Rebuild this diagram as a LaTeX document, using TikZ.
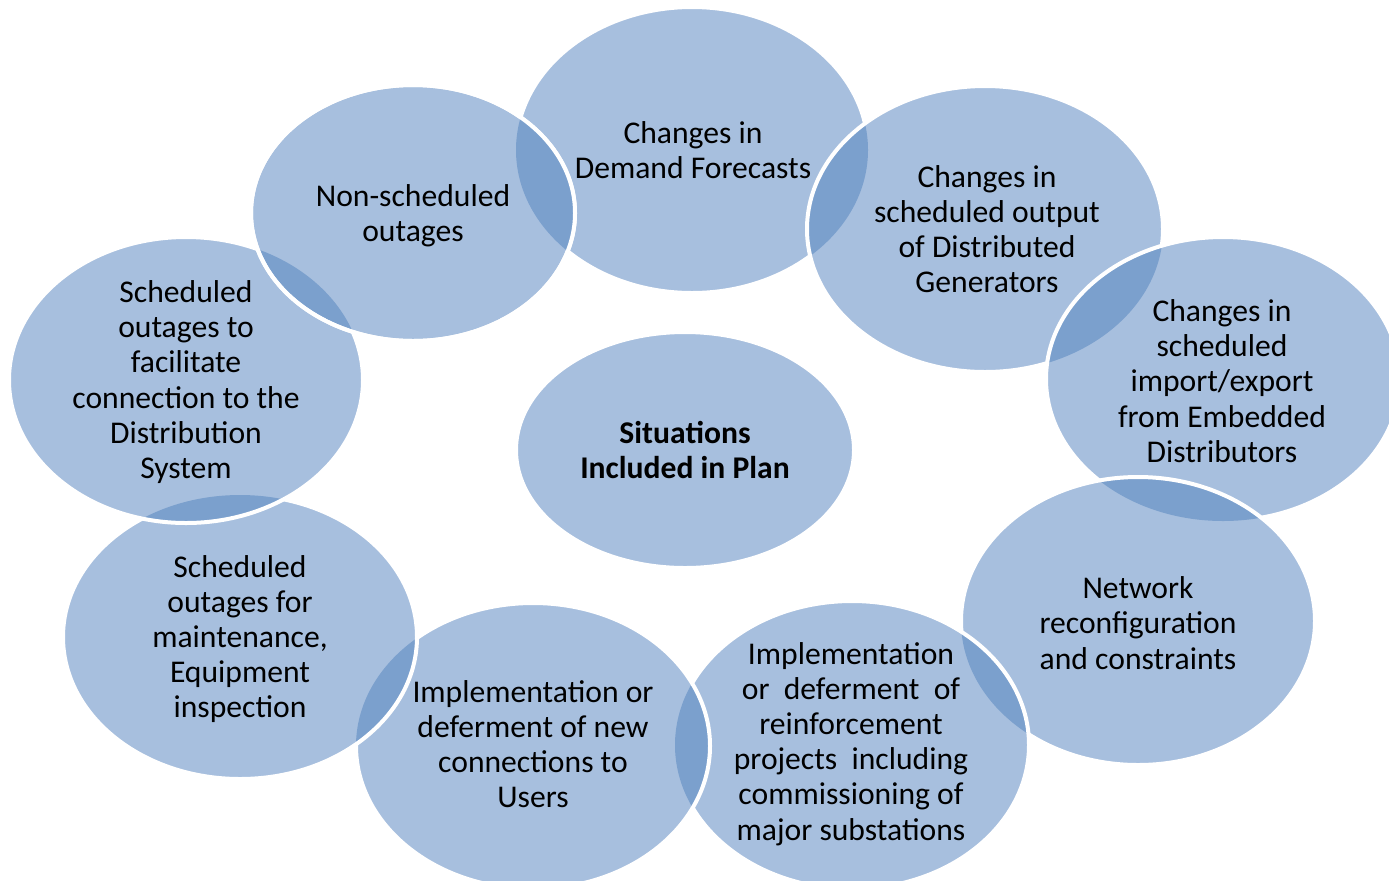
\documentclass[tikz,border=0pt]{standalone}
\usepackage{fontspec}
\setmainfont{Carlito}
\definecolor{bubbleblue}{RGB}{167,191,222}
\definecolor{overlapblue}{RGB}{123,160,205}

\begin{document}
\begin{tikzpicture}[x=0.02cm,y=-0.02cm,
    bubble/.style={fill=bubbleblue},
    overlap/.style={fill=overlapblue},
    rim/.style={draw=white,line width=0.08cm},
    every node/.style={align=center,font=\fontsize{18}{20}\selectfont}]

  \useasboundingbox (0,0) rectangle (1389,880);
  \clip (0,0) rectangle (1389,880);

  % outer ring: each bubble is laid over the one before it
  \foreach \cx/\cy/\rx/\ry/\px/\py/\prx/\pry in {
      692/150/176/143/-500/-500/1/1,
      985/229/178/143/692/150/176/143,
      1223/379/177/142/985/229/178/143,
      1138/621/177/144/1223/379/177/142,
      852/745/177/144/1138/621/177/144,
      533/746/177/143/852/745/177/144,
      240/637/177/142/533/746/177/143,
      186/380/177/143/240/637/177/142,
      413/213/162/128/186/380/177/143}
  {
    \fill[bubble] (\cx,\cy) ellipse [x radius=\rx, y radius=\ry];
    \begin{scope}
      \clip (\cx,\cy) ellipse [x radius=\rx, y radius=\ry];
      \fill[overlap] (\px,\py) ellipse [x radius=\prx, y radius=\pry];
    \end{scope}
    \draw[rim] (\cx,\cy) ellipse [x radius=\rx, y radius=\ry];
  }

  % the last bubble also closes the ring over the first one
  \begin{scope}
    \clip (413,213) ellipse [x radius=162, y radius=128];
    \fill[overlap] (692,150) ellipse [x radius=176, y radius=143];
  \end{scope}
  \draw[rim] (413,213) ellipse [x radius=162, y radius=128];

  % middle bubble
  \fill[bubble] (685,450) ellipse [x radius=169, y radius=118];
  \draw[rim] (685,450) ellipse [x radius=169, y radius=118];

  \node (demand) at (693,150) {Changes in\\Demand Forecasts};
  \node (generators) at (987,229) {Changes in\\scheduled output\\of Distributed\\Generators};
  \node (distributors) at (1222,381) {Changes in\\scheduled\\import/export\\from Embedded\\Distributors};
  \node (network) at (1138,623) {Network\\reconfiguration\\and constraints};
  \node (reinforcement) at (851,744) {Implementation\\or\ \ deferment\ \ of\\reinforcement\\projects\ \ including\\commissioning of\\major substations};
  \node (connections) at (533,744) {Implementation or\\deferment of new\\connections to\\Users};
  \node (maintenance) at (240,639) {Scheduled\\outages for\\maintenance,\\Equipment\\inspection};
  \node (facilitate) at (186,382) {Scheduled\\outages to\\facilitate\\connection to the\\Distribution\\System};
  \node (unscheduled) at (413,216) {Non-scheduled\\outages};
  \node[font=\fontsize{18}{20}\selectfont\bfseries] (plan) at (685,450) {Situations\\Included in Plan};
\end{tikzpicture}
\end{document}
